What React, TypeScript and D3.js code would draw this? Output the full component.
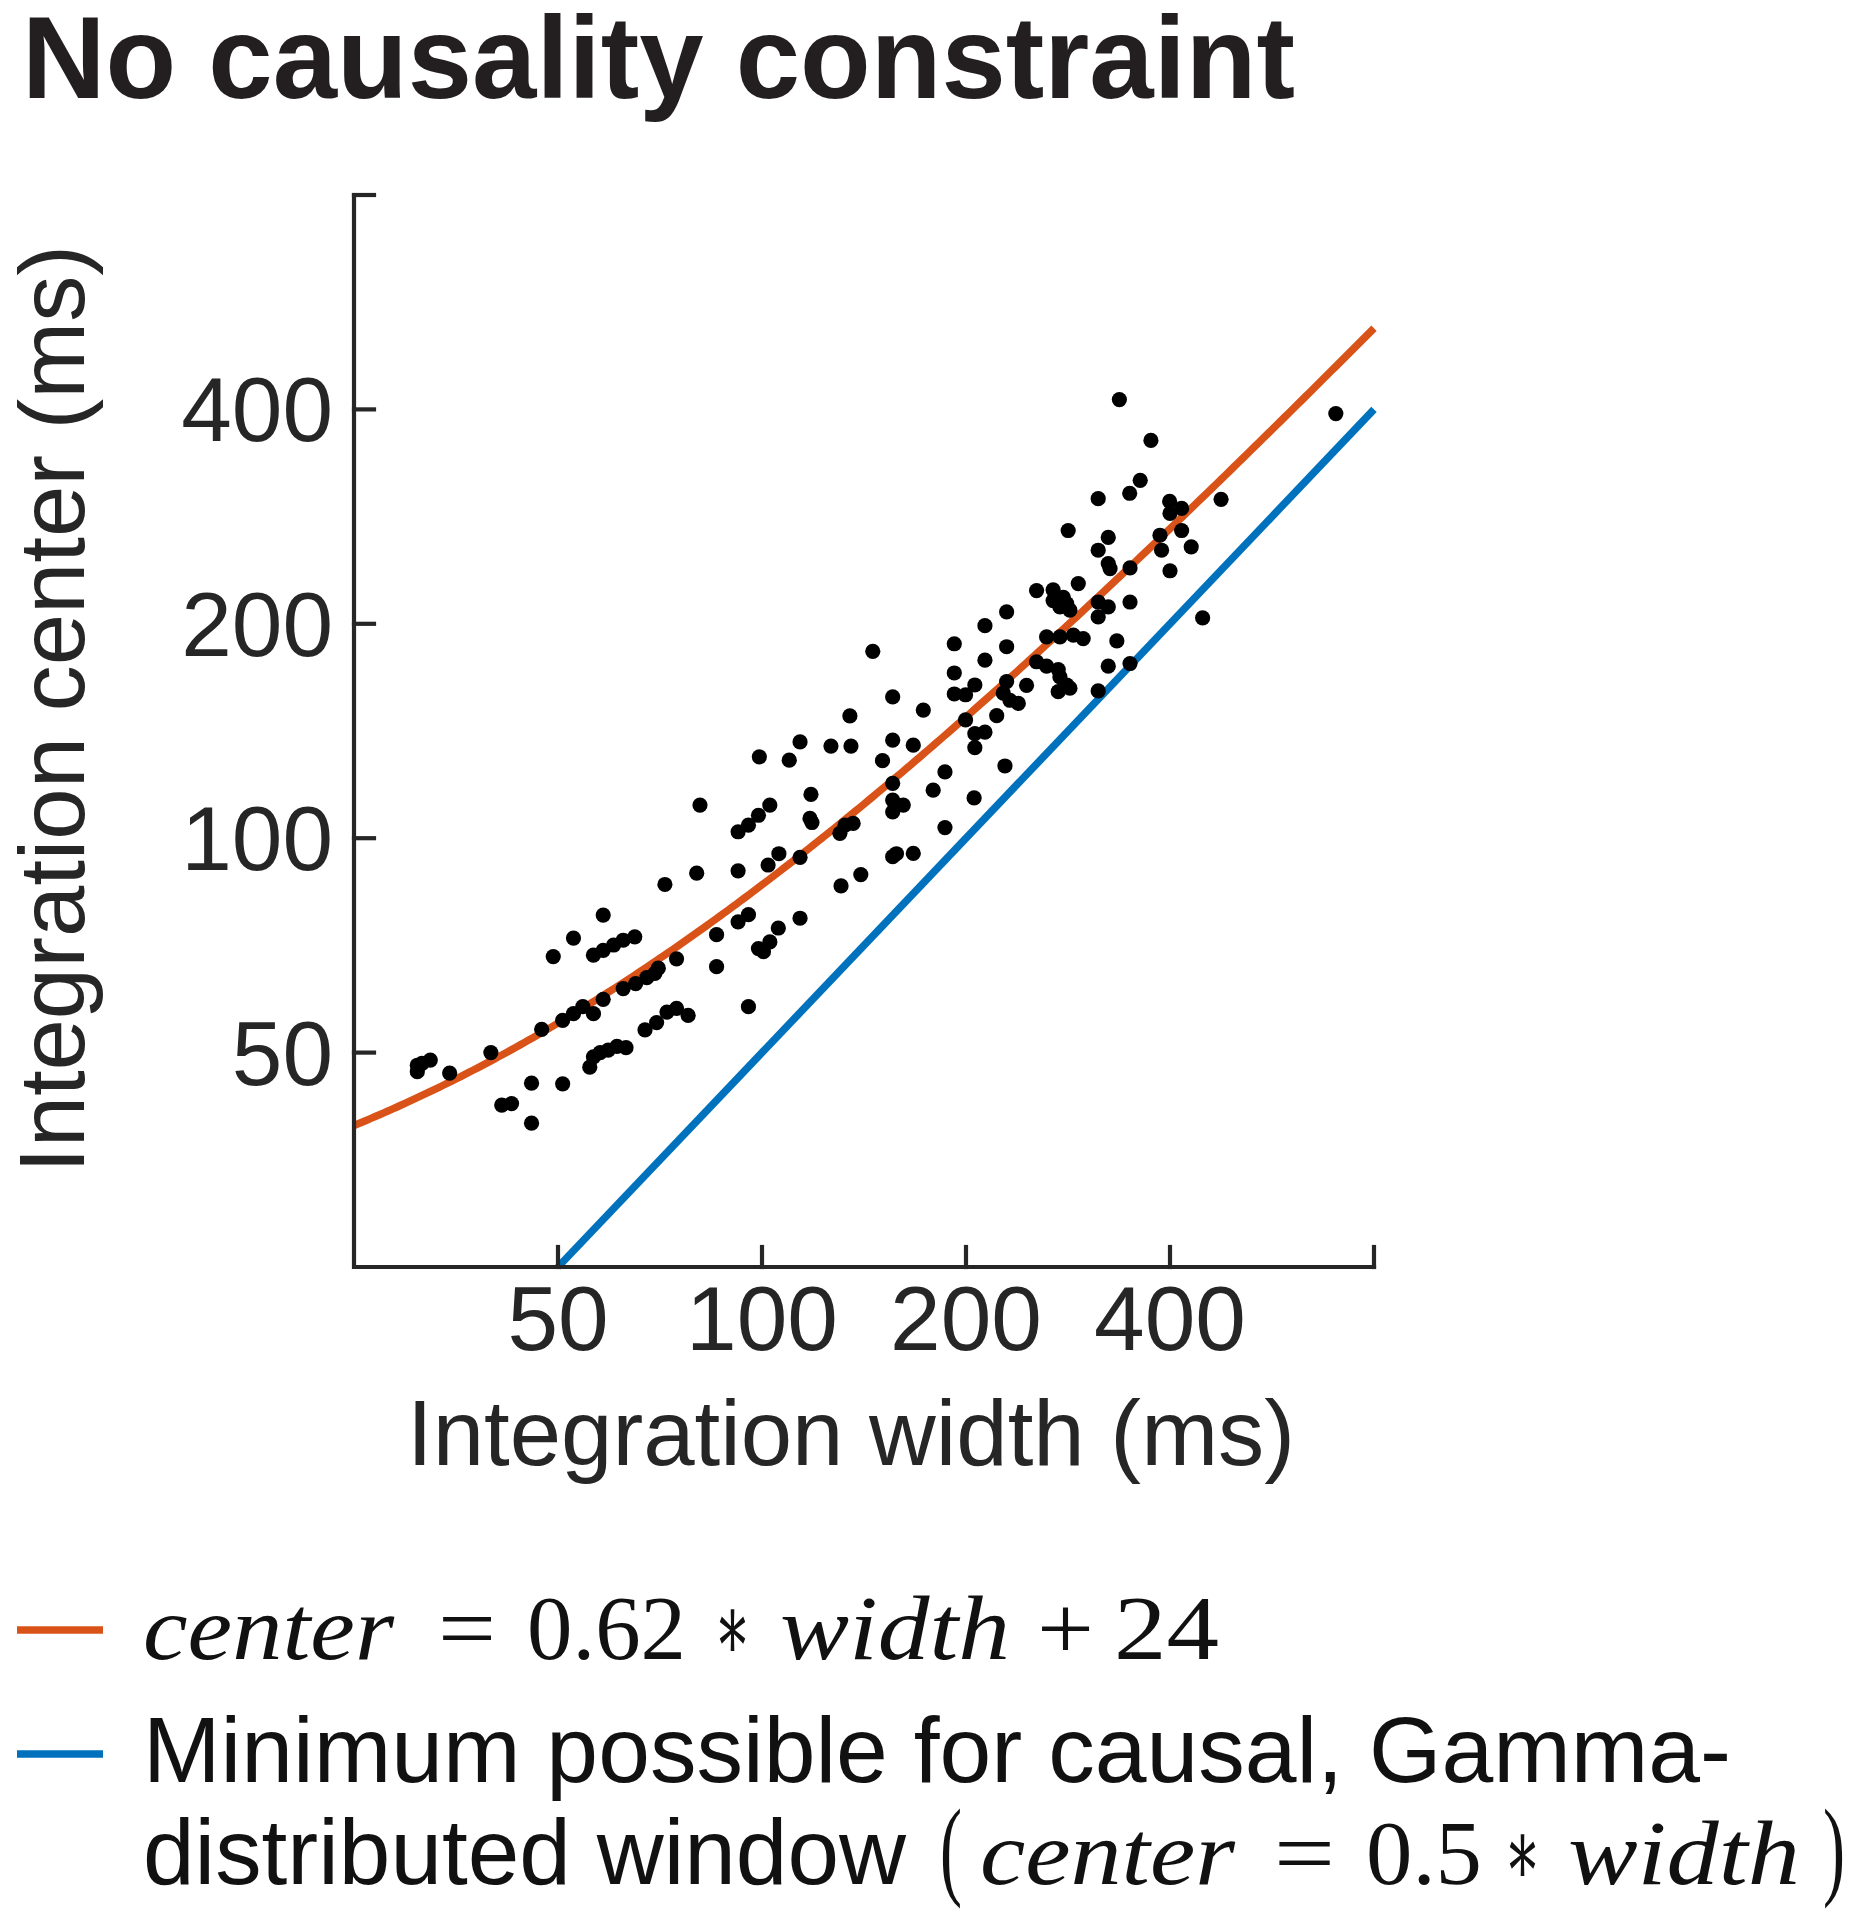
import React from 'react';
import * as d3 from 'd3';

// [integration width (ms), integration center (ms)]
const points: [number, number][] = [
  [31, 48], [31.5, 48.3], [32.4, 48.8], [31, 47], [34.6, 46.8], [39.8, 50], [41.3, 42.2], [42.7, 42.4],
  [45.7, 45.3], [45.7, 39.8], [47.3, 53.9], [50.8, 45.2], [50.8, 55.5], [52.7, 56.7], [54.4, 58], [56.4, 56.7],
  [58.3, 59.4], [62.4, 61.5], [65.1, 62.5], [67.6, 63.7], [69.5, 64.6], [70.3, 65.7], [55.7, 47.7], [56.4, 49.3],
  [57.7, 50], [59.3, 50.4], [61.1, 51], [63, 50.8], [67.2, 53.8], [69.9, 55.1], [72.4, 57], [74.8, 57.7],
  [77.8, 56.4], [52.7, 72.4], [49.2, 68.2], [58.3, 78], [56.4, 68.5], [58.3, 69.6], [60.4, 70.8], [62.4, 71.9],
  [64.9, 72.7], [71.9, 86.1], [74.8, 67.7], [80.1, 89.3], [81, 111.3], [85.7, 73.2], [85.7, 66], [92.2, 76.3],
  [95.5, 78.1], [92.2, 90], [95.5, 58], [98.8, 70], [100.5, 69.3], [102.7, 71.5], [105.7, 74.8], [113.8, 77.2],
  [102.1, 91.7], [105.9, 95.1], [113.8, 94], [92.2, 102.1], [95.5, 104.3], [98.8, 107.7], [102.7, 111.3], [99.1, 130.1],
  [109.7, 128.7], [113.8, 136.5], [118.1, 115.2], [117.7, 106.6], [118.5, 105.2], [126.4, 134.7], [135.3, 134.7], [132.6, 104.3],
  [136.3, 104.9], [130.3, 101.6], [130.8, 85.7], [139.9, 88.9], [145.7, 183], [150.6, 128.5], [155.9, 137.3], [167.2, 135.1],
  [155.9, 157.9], [173, 151.3], [155.9, 119.4], [155.9, 113.1], [155.9, 108.9], [161.6, 111.3], [155.9, 94.2], [157.9, 95.1],
  [167.2, 95.2], [186.2, 123.9], [178.9, 116.8], [186.2, 103.5], [192.2, 187.5], [213.3, 198.8], [229.6, 207.9], [229.6, 185.7],
  [213.3, 177.8], [192.2, 170.6], [192.2, 159.4], [199.7, 159], [206.1, 164.1], [229.6, 165.9], [199.7, 146.6], [222, 148.6],
  [227, 159.8], [232.2, 156.2], [238.9, 154.6], [245.7, 163.9], [206.1, 140.2], [213.3, 140.9], [206.1, 134], [228.3, 126.3],
  [205.6, 113.9], [254.2, 176.9], [263, 174.4], [273.6, 172.5], [275.2, 168.4], [281.6, 164.1], [273.6, 160.6], [284.7, 162.4],
  [263, 191.7], [275.2, 191.7], [288, 192.8], [297.8, 190.7], [324.3, 174.4], [313.4, 161], [333.9, 189.2], [283, 270.4],
  [324.3, 264.4], [313.4, 253.7], [324.3, 243], [326.3, 239.1], [349.2, 239.6], [292.9, 227.8], [254.2, 222.7], [268.9, 223.2],
  [278.4, 217.9], [275.2, 211.2], [281.6, 213.4], [268.9, 215.6], [284.7, 209], [313.4, 214.6], [324.3, 211.2], [313.4, 204.5],
  [349.2, 214.6], [349.2, 175.9], [446.9, 203.9], [386.6, 266.3], [388.7, 253.7], [400, 285.8], [416.1, 290.4], [416.1, 270.4],
  [429.9, 256.5], [400, 237.4], [475.8, 299.1], [336.8, 412.9], [374.9, 361.8], [361.5, 318], [348.8, 305], [313.4, 299.7],
  [399.5, 297.1], [702.7, 394.7], [134.8, 148.5],
];

const xTicks = [50, 100, 200, 400];
const yTicks = [50, 100, 200, 400];
const axisDomain: [number, number] = [25, 800];
const fitSlope = 0.62;
const fitIntercept = 24;
const minSlope = 0.5;
const minWidthRange: [number, number] = [50, 800];

const ORANGE = '#D95319';
const BLUE = '#0072BD';
const AX = '#262626';
const SANS = '"Liberation Sans", Arial, Helvetica, sans-serif';
const SERIF = '"Liberation Serif", "Times New Roman", "DejaVu Serif", serif';

export default function App() {
  const W = 1864;
  const H = 1920;
  const left = 354, right = 1374, top = 195, bottom = 1267;
  const x = d3.scaleLog().domain(axisDomain).range([left, right]);
  const y = d3.scaleLog().domain(axisDomain).range([bottom, top]);

  const fitWidths = d3.range(0, 241).map((i) => axisDomain[0] * Math.pow(axisDomain[1] / axisDomain[0], i / 240));
  const fitPath = d3
    .line<number>()
    .x((w) => x(w))
    .y((w) => y(fitSlope * w + fitIntercept))(fitWidths) as string;
  const minPath = d3
    .line<number>()
    .x((w) => x(w))
    .y((w) => y(minSlope * w))(minWidthRange) as string;

  const tickLen = 20;
  const allY = [...yTicks, axisDomain[1]];
  const allX = [...xTicks, axisDomain[1]];

  const mathPiece = (txt: string, x0: number, x1: number, yb: number, italic: boolean, key: string, fs = 92) => (
    <text
      key={key}
      x={x0}
      y={yb}
      fontFamily={SERIF}
      fontSize={fs}
      fontStyle={italic ? 'italic' : 'normal'}
      fill="#111"
      textLength={x1 - x0}
      lengthAdjust="spacingAndGlyphs"
    >
      {txt}
    </text>
  );

  return (
    <svg
      width={W}
      height={H}
      viewBox={`0 0 ${W} ${H}`}
      style={{ position: 'absolute', left: 0, top: 0, display: 'block', background: '#fff' }}
    >
      <rect x={0} y={0} width={W} height={H} fill="#fff" />
      {/* Title */}
      <text x={22} y={98} fontFamily={SANS} fontWeight="bold" fontSize={116} fill="#231f20" textLength={1273} lengthAdjust="spacingAndGlyphs">
        No causality constraint
      </text>

      {/* Lines */}
      <path d={fitPath} fill="none" stroke={ORANGE} strokeWidth={7.5} />
      <path d={minPath} fill="none" stroke={BLUE} strokeWidth={7.5} />

      {/* Points */}
      <g fill="#000">
        {points.map(([w, c], i) => (
          <circle key={i} cx={x(w)} cy={y(c)} r={7.6} />
        ))}
      </g>

      {/* Axes */}
      <g stroke={AX} strokeWidth={4.2} fill="none" strokeLinecap="square">
        <path d={`M${left},${top} V${bottom} H${right}`} />
        {allY.map((v) => (
          <line key={'yt' + v} x1={left} x2={left + tickLen} y1={y(v)} y2={y(v)} />
        ))}
        {allX.map((v) => (
          <line key={'xt' + v} x1={x(v)} x2={x(v)} y1={bottom} y2={bottom - tickLen} />
        ))}
      </g>

      {/* Tick labels */}
      <g fontFamily={SANS} fontSize={91} fill={AX}>
        {yTicks.map((v) => (
          <text key={'yl' + v} x={333} y={y(v) + 32} textAnchor="end">
            {v}
          </text>
        ))}
        {xTicks.map((v) => (
          <text key={'xl' + v} x={x(v)} y={1350} textAnchor="middle">
            {v}
          </text>
        ))}
      </g>

      {/* Axis labels */}
      <text x={851} y={1465} textAnchor="middle" fontFamily={SANS} fontSize={92} fill={AX} textLength={888} lengthAdjust="spacingAndGlyphs">
        Integration width (ms)
      </text>
      <text
        transform="translate(84,709) rotate(-90)"
        textAnchor="middle"
        fontFamily={SANS}
        fontSize={92}
        fill={AX}
        textLength={928}
        lengthAdjust="spacingAndGlyphs"
      >
        Integration center (ms)
      </text>

      {/* Legend */}
      <line x1={17} x2={103} y1={1630} y2={1630} stroke={ORANGE} strokeWidth={7.5} />
      <line x1={17} x2={103} y1={1754} y2={1754} stroke={BLUE} strokeWidth={7.5} />

      {mathPiece('center', 143, 394, 1659, true, 'a1')}
      {mathPiece('=', 438, 496, 1659, false, 'a2')}
      {mathPiece('0.62', 527, 686, 1659, false, 'a3')}
      {mathPiece('\u2217', 714, 751, 1659, false, 'a4')}
      {mathPiece('width', 780, 1010, 1659, true, 'a5')}
      {mathPiece('+', 1037, 1094, 1659, false, 'a6')}
      {mathPiece('24', 1114, 1219, 1659, false, 'a7')}

      <text x={143} y={1782} fontFamily={SANS} fontSize={92} fill="#111" textLength={1588} lengthAdjust="spacingAndGlyphs">
        Minimum possible for causal, Gamma-
      </text>
      <text x={143} y={1884} fontFamily={SANS} fontSize={92} fill="#111" textLength={763} lengthAdjust="spacingAndGlyphs">
        distributed window
      </text>
      {mathPiece('(', 940, 962, 1885, false, 'b0', 110)}
      {mathPiece('center', 980, 1235, 1884, true, 'b1')}
      {mathPiece('=', 1274, 1335, 1884, false, 'b2')}
      {mathPiece('0.5', 1366, 1482, 1884, false, 'b3')}
      {mathPiece('\u2217', 1504, 1541, 1884, false, 'b4')}
      {mathPiece('width', 1568, 1800, 1884, true, 'b5')}
      {mathPiece(')', 1823, 1845, 1885, false, 'b6', 110)}
    </svg>
  );
}
